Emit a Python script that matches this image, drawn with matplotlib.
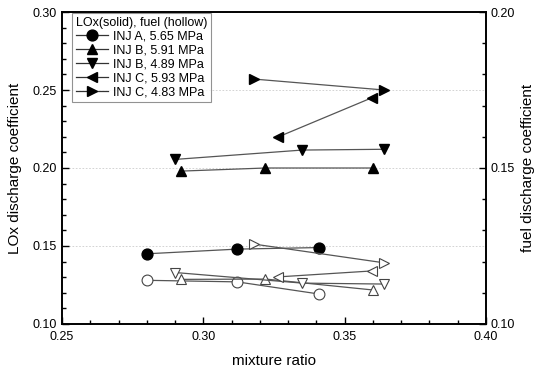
import matplotlib
matplotlib.use('Agg')
import matplotlib.pyplot as plt
from matplotlib.ticker import MultipleLocator, FormatStrFormatter

plt.rcParams['font.family'] = ['Liberation Sans', 'DejaVu Sans']

# data
labels = ['INJ A, 5.65 MPa', 'INJ B, 5.91 MPa', 'INJ B, 4.89 MPa',
          'INJ C, 5.93 MPa', 'INJ C, 4.83 MPa']
markers = ['o', '^', 'v', '<', '>']

mr_A = [0.280, 0.312, 0.341]
lox_A = [0.145, 0.148, 0.149]
fuel_A = [0.1140, 0.1135, 0.1096]

mr_B1 = [0.292, 0.322, 0.360]
lox_B1 = [0.198, 0.200, 0.200]
fuel_B1 = [0.1143, 0.1144, 0.1109]

mr_B2 = [0.290, 0.335, 0.364]
lox_B2 = [0.2055, 0.2115, 0.212]
fuel_B2 = [0.1165, 0.1131, 0.1128]

mr_C1 = [0.3266, 0.3596]
lox_C1 = [0.220, 0.245]
fuel_C1 = [0.1151, 0.1170]

mr_C2 = [0.318, 0.364]
lox_C2 = [0.257, 0.250]
fuel_C2 = [0.1256, 0.1196]

mr = [mr_A, mr_B1, mr_B2, mr_C1, mr_C2]
lox = [lox_A, lox_B1, lox_B2, lox_C1, lox_C2]
fuel = [fuel_A, fuel_B1, fuel_B2, fuel_C1, fuel_C2]

fig = plt.figure(figsize=(5.38, 3.73), dpi=100)
ax = fig.add_axes([0.1152, 0.1314, 0.7881, 0.8364])
ax2 = ax.twinx()

line_c = '#555555'
for x, y, m, lab in zip(mr, lox, markers, labels):
    ax.plot(x, y, color=line_c, lw=0.9, marker=m, ms=7.8,
            mfc='black', mec='black', label=lab, zorder=3)
for x, y, m in zip(mr, fuel, markers):
    ax2.plot(x, y, color=line_c, lw=0.9, marker=m, ms=7.8,
             mfc='white', mec='#444444', mew=0.8, zorder=3)

ax.set_xlim(0.25, 0.40)
ax.set_ylim(0.10, 0.30)
ax2.set_ylim(0.10, 0.20)

ax.xaxis.set_major_locator(MultipleLocator(0.05))
ax.xaxis.set_minor_locator(MultipleLocator(0.01))
ax.yaxis.set_major_locator(MultipleLocator(0.05))
ax.yaxis.set_minor_locator(MultipleLocator(0.01))
ax2.yaxis.set_major_locator(MultipleLocator(0.05))
ax2.yaxis.set_minor_locator(MultipleLocator(0.01))
for a in (ax, ax2):
    a.xaxis.set_major_formatter(FormatStrFormatter('%.2f'))
    a.yaxis.set_major_formatter(FormatStrFormatter('%.2f'))
    a.tick_params(which='both', direction='in', labelsize=9, width=1.0)
    a.tick_params(which='major', length=5)
    a.tick_params(which='minor', length=3)
    for s in a.spines.values():
        s.set_linewidth(1.2)

ax.tick_params(axis='x', pad=5)
ax.grid(axis='y', which='major', ls=(0, (2, 2)), color='#cccccc', lw=0.6)
ax.set_axisbelow(True)

ax.set_xlabel('mixture ratio', fontsize=11, labelpad=8)
ax.set_ylabel('LOx discharge coefficient', fontsize=11, labelpad=8)
ax2.set_ylabel('fuel discharge coefficient', fontsize=11, labelpad=4)

leg = ax.legend(title='LOx(solid), fuel (hollow)', loc='upper left',
                bbox_to_anchor=(0.024, 0.997), borderaxespad=0,
                fontsize=9, title_fontsize=9, alignment='left',
                frameon=True, fancybox=False, edgecolor='#777777',
                handlelength=2.6, handletextpad=0.4, labelspacing=0.15,
                borderpad=0.3)
leg.get_frame().set_linewidth(0.8)
for h in leg.legend_handles:
    h.set_color('#333333')
    h.set_markerfacecolor('black')
    h.set_markeredgecolor('black')

fig.savefig('out.png', dpi=100)
